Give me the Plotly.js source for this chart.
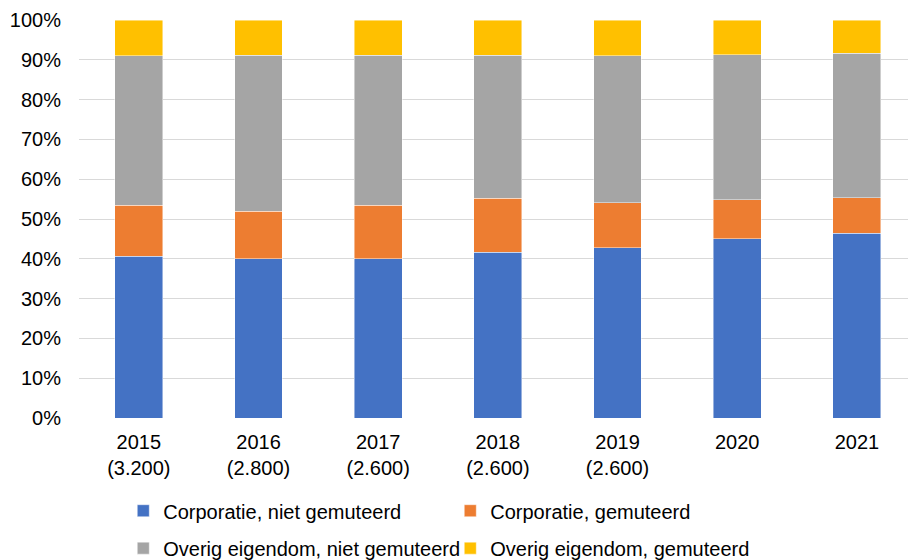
<!DOCTYPE html>
<html>
<head>
<meta charset="utf-8">
<script src="https://cdn.plot.ly/plotly-3.0.1.min.js"></script>
<style>
html,body{margin:0;padding:0;background:#fff;}
#chart{width:908px;height:560px;}
</style>
</head>
<body>
<div id="chart"></div>
<script>
// Categories (year + count)
const categories = ["2015<br>(3.200)", "2016<br>(2.800)", "2017<br>(2.600)", "2018<br>(2.600)", "2019<br>(2.600)", "2020", "2021"];

// Shares (fraction of 100%)
const corpNietGemuteerd = [0.407, 0.400, 0.400, 0.416, 0.428, 0.450, 0.464];
const corpGemuteerd     = [0.128, 0.119, 0.134, 0.136, 0.113, 0.099, 0.090];
const overigNietGemuteerd = [0.375, 0.393, 0.377, 0.360, 0.369, 0.364, 0.363];
const overigGemuteerd   = [0.090, 0.088, 0.089, 0.088, 0.090, 0.087, 0.083];

const seriesNames = [
  "Corporatie, niet gemuteerd",
  "Corporatie, gemuteerd",
  "Overig eigendom, niet gemuteerd",
  "Overig eigendom, gemuteerd"
];
const seriesColors = ["#4472C4", "#ED7D31", "#A5A5A5", "#FFC000"];
const seriesValues = [corpNietGemuteerd, corpGemuteerd, overigNietGemuteerd, overigGemuteerd];
const legendIds = ["legend", "legend", "legend2", "legend2"];

const traces = seriesValues.map((vals, i) => ({
  type: "bar",
  x: categories,
  y: vals,
  name: seriesNames[i],
  legend: legendIds[i],
  width: 0.4,
  marker: { color: seriesColors[i], line: { color: "rgba(255,255,255,0.6)", width: 0.75 } },
  hoverinfo: "skip"
}));

const font = { family: "Liberation Sans, Arial, sans-serif", size: 20, color: "#000" };

const legendCommon = {
  orientation: "h",
  xanchor: "left",
  yanchor: "middle",
  x: 0.0534,
  entrywidth: 282,
  entrywidthmode: "pixels",
  traceorder: "normal",
  itemwidth: 30,
  font: font,
  bgcolor: "rgba(0,0,0,0)"
};

const layout = {
  width: 908,
  height: 560,
  margin: { l: 79, r: 0, t: 20, b: 142, autoexpand: false },
  paper_bgcolor: "#fff",
  plot_bgcolor: "#fff",
  barmode: "stack",
  bargap: 0.6,
  font: font,
  showlegend: true,
  legend: Object.assign({}, legendCommon, { y: -0.233 }),
  legend2: Object.assign({}, legendCommon, { y: -0.327 }),
  xaxis: {
    type: "category",
    range: [-0.5, 6.427],
    showgrid: false,
    zeroline: false,
    showline: false,
    ticks: "",
    ticklabelstandoff: 10,
    tickfont: font,
    automargin: false,
    fixedrange: true
  },
  yaxis: {
    range: [0, 1],
    dtick: 0.1,
    tick0: 0,
    tickformat: ".0%",
    showgrid: true,
    gridcolor: "#D9D9D9",
    gridwidth: 1,
    zeroline: false,
    showline: false,
    ticks: "",
    ticklabelstandoff: 17,
    tickfont: font,
    automargin: false,
    fixedrange: true
  }
};

Plotly.newPlot("chart", traces, layout, { displayModeBar: false, staticPlot: true });
</script>
</body>
</html>
